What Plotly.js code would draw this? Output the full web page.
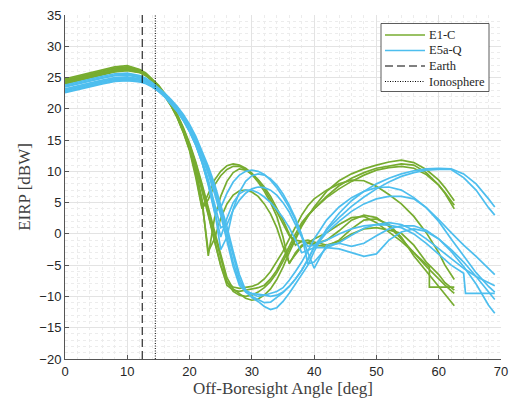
<!DOCTYPE html>
<html>
<head>
<meta charset="utf-8">
<script src="https://cdn.plot.ly/plotly-3.0.1.min.js"></script>
<style>html,body{margin:0;padding:0;background:#fff;}#chart{width:514px;height:401px;}</style>
</head>
<body>
<div id="chart"></div>
<script>
// ---- data ----
var gAng = [0,2,4,6,8,10,12,13,14,15,16,17,18,19,20,21,22,23,24,25,26,27,28,29,30,31,32,33,34,35,36,37,38,39,40,42,44,46,48,50,52,54,56,58,60,61,62.5];
var gA4Ang = [0,2,4,6,8,10,12,13,14,15,16,17,18,19,20,21,22,23,24,25,26,27,28,29,30,31,32,33,34,35,36,37,38,39,40,42,44,46,48,50,52,54,56,58,58.5,58.5,60,61,62.5];
var bAng = [0,2,4,6,8,10,12,13,14,15,16,17,18,19,20,21,22,23,24,25,26,27,28,29,30,31,32,33,34,35,36,37,38,39,40,42,44,46,48,50,52,54,56,58,60,62,64,66,68,69];
var bC3Ang = [0,2,4,6,8,10,12,13,14,15,16,17,18,19,20,21,22,23,24,25,26,27,28,29,30,31,32,33,34,35,36,37,38,39,40,42,44,46,48,50,52,54,56,58,60,62,64,64.3,66,68,69];

// E1-C patterns
var gA1 = [24.6,25.1,25.6,26.1,26.5,26.7,26.2,25.6,24.7,23.7,22.3,20.7,18.8,16.4,13.6,9.5,4.2,6.5,8.6,10.0,10.9,11.2,11.0,10.5,9.7,8.6,7.2,5.5,3.6,1.6,-0.3,-1.0,-1.2,-1.5,-1.6,-1.0,0.5,2.2,3.0,2.6,1.2,-0.8,-3.0,-5.2,-7.2,-8.2,-9.5];
var gA2 = [24.3,24.8,25.3,25.8,26.2,26.4,26.0,25.4,24.5,23.5,22.1,20.5,18.6,16.2,13.3,9.0,4.0,5.5,7.8,9.3,10.3,10.8,10.8,10.3,9.5,8.3,6.8,5.0,2.8,-0.5,-4.8,-3.0,-1.8,-1.5,-1.8,-2.0,-1.0,0.8,2.2,2.4,1.5,-0.5,-3.5,-6.0,-8.5,-9.8,-11.5];
var gA3 = [24.0,24.5,25.0,25.5,25.9,26.1,25.8,25.3,24.5,23.5,22.2,20.6,18.8,16.5,13.8,10.2,5.5,-3.5,2.5,6.0,8.4,9.8,10.4,10.2,9.6,8.7,7.5,6.0,4.2,2.2,0.0,-1.8,-1.2,-1.0,-1.3,-1.8,-1.2,0.0,0.8,1.0,0.6,0.1,-1.8,-4.5,-6.5,-7.8,-9.0];
var gA4 = [24.2,24.7,25.2,25.7,26.1,26.3,25.9,25.4,24.6,23.6,22.2,20.6,18.7,16.3,13.5,9.8,5.0,-2.8,-0.8,2.5,4.8,6.2,6.9,7.0,6.7,6.0,4.8,3.2,1.0,-2.0,-4.6,-3.2,-2.0,-1.4,-0.8,0.2,1.5,2.6,2.8,1.8,0.3,-1.2,-3.0,-4.8,-5.3,-8.5,-8.5,-8.5,-8.5];
var gB1 = [24.8,25.3,25.8,26.3,26.7,26.9,26.3,25.7,24.8,23.8,22.5,21.0,19.2,17.0,14.5,11.5,8.0,4.3,0.5,-3.5,-7.0,-8.8,-9.6,-10.3,-10.6,-10.4,-9.8,-8.8,-7.3,-5.3,-3.0,-0.8,1.2,2.8,4.3,6.8,8.5,9.6,10.4,11.0,11.5,11.8,11.4,10.3,8.6,7.4,5.3];
var gB2 = [24.5,25.0,25.5,26.0,26.4,26.6,26.1,25.5,24.6,23.6,22.3,20.8,19.0,16.8,14.3,11.2,7.6,3.8,-0.2,-4.2,-7.6,-9.2,-9.8,-10.0,-9.8,-9.3,-8.6,-7.6,-6.2,-4.4,-2.4,-0.4,1.4,2.9,4.0,6.0,7.7,8.9,9.8,10.5,10.9,11.2,11.0,9.8,7.8,6.5,4.0];
var gB3 = [24.3,24.8,25.3,25.8,26.2,26.4,25.9,25.4,24.5,23.5,22.2,20.7,18.9,16.6,14.0,10.8,7.2,3.2,-1.0,-5.0,-8.2,-9.0,-9.2,-9.0,-8.8,-8.6,-8.2,-7.2,-5.8,-4.0,-2.0,0.0,1.8,3.0,4.0,5.8,7.2,8.4,9.4,10.2,10.6,10.8,10.5,9.5,7.8,6.6,4.6];
var gB4 = [24.1,24.6,25.1,25.6,26.0,26.2,25.8,25.3,24.5,23.5,22.2,20.7,18.9,16.6,14.0,10.8,7.0,3.0,-1.2,-5.0,-7.8,-8.5,-8.7,-8.6,-8.4,-8.0,-7.2,-6.0,-4.5,-2.8,-0.8,1.2,3.0,4.5,5.6,7.0,8.0,8.6,8.5,7.6,6.3,4.8,2.8,0.2,-3.0,-5.0,-7.3];

// E5a-Q patterns
var bC1 = [23.5,24.0,24.5,24.9,25.3,25.4,25.0,24.6,23.9,23.1,22.1,21.0,19.8,18.3,16.5,14.3,11.5,7.8,3.5,4.2,6.5,8.3,9.4,10.0,10.2,10.0,9.5,8.6,7.4,5.9,4.2,2.2,-0.2,-3.0,-5.5,-1.8,-1.5,-2.0,-1.5,-0.3,0.8,1.3,1.3,0.6,-0.8,-2.8,-5.2,-8.0,-11.4,-12.7];
var bC2 = [23.2,23.7,24.2,24.6,25.0,25.1,24.8,24.4,23.7,22.9,22.0,20.9,19.7,18.2,16.4,14.2,11.5,8.2,4.0,-2.5,-0.5,4.0,6.7,8.4,9.3,9.6,9.4,8.8,7.8,6.4,4.6,2.5,-0.2,-4.8,-4.5,-2.2,-2.4,-3.0,-3.6,-3.2,-1.0,0.3,0.8,0.4,-0.8,-2.5,-4.5,-6.8,-9.2,-10.5];
var bC3 = [22.9,23.4,23.9,24.3,24.7,24.8,24.6,24.2,23.6,22.9,22.0,20.9,19.7,18.2,16.5,14.4,11.8,8.7,5.0,1.0,1.5,3.8,5.4,6.5,7.2,7.5,7.4,7.0,6.2,5.0,3.5,1.6,-0.5,-2.0,-1.8,-1.0,0.0,0.8,1.3,1.5,1.4,1.0,0.0,-1.5,-3.2,-5.0,-6.3,-9.5,-9.5,-9.5,-9.5];
var bC4 = [22.6,23.1,23.6,24.0,24.4,24.5,24.3,24.0,23.5,22.8,21.9,20.8,19.6,18.1,16.3,14.2,11.4,8.0,3.8,-0.5,2.5,5.0,6.4,7.0,7.0,6.6,5.9,5.0,3.9,2.6,1.0,-1.0,-3.0,-2.6,-2.2,-2.2,-1.4,-0.2,0.9,1.5,1.8,1.5,0.6,-0.8,-2.4,-4.0,-5.5,-6.8,-7.8,-8.3];
var bD1 = [23.8,24.3,24.8,25.2,25.6,25.7,25.3,24.9,24.2,23.4,22.5,21.5,20.4,19.1,17.5,15.6,13.3,10.8,8.0,4.8,1.2,-2.8,-6.5,-9.0,-10.2,-10.8,-11.6,-12.1,-11.8,-10.8,-9.5,-8.0,-6.6,-5.0,-2.8,0.8,3.3,5.3,6.8,8.0,8.9,9.6,10.1,10.4,10.5,10.4,9.6,8.0,5.6,4.3];
var bD2 = [23.6,24.1,24.6,25.0,25.4,25.5,25.1,24.7,24.0,23.2,22.3,21.3,20.2,18.9,17.3,15.3,13.0,10.4,7.5,4.2,0.4,-3.6,-7.2,-9.3,-10.0,-10.5,-11.0,-10.9,-10.2,-9.4,-8.4,-7.2,-5.8,-4.2,-2.0,0.6,2.6,4.4,5.9,7.2,8.3,9.2,9.8,10.2,10.3,10.3,9.0,7.0,4.2,3.0];
var bD3 = [23.0,23.5,24.0,24.4,24.8,24.9,24.7,24.3,23.7,23.0,22.1,21.1,20.0,18.6,17.0,15.0,12.7,10.0,7.0,3.6,-0.5,-4.5,-7.8,-9.0,-9.6,-10.0,-9.8,-9.5,-9.2,-8.6,-7.4,-6.0,-4.5,-2.7,-0.8,2.2,4.3,5.8,6.8,7.4,7.5,7.0,5.8,4.2,2.3,0.2,-1.8,-3.6,-5.5,-6.5];
var bD4 = [22.7,23.2,23.7,24.1,24.5,24.6,24.4,24.1,23.6,22.9,22.0,21.0,19.9,18.5,16.8,14.8,12.4,9.6,6.5,3.0,-1.2,-5.2,-8.2,-9.2,-9.5,-9.6,-9.8,-10.0,-9.8,-9.3,-8.4,-7.2,-5.8,-4.0,-2.2,0.2,2.0,3.6,4.8,5.6,6.0,6.0,5.6,4.2,2.0,-0.8,-3.6,-6.2,-8.4,-9.3];

var earthAngle = 12.4;
var ionoAngle = 14.5;
var yLimits = [-20, 35];
var xTicks = [0,10,20,30,40,50,60,70];
var yTicks = [-20,-15,-10,-5,0,5,10,15,20,25,30,35];
var legendNames = ['E1-C', 'E5a-Q', 'Earth', 'Ionosphere'];

// ---- traces ----
var GREEN = '#77AC30', BLUE = '#4DBEEE';
var DASH = '8px,4px', DOT = '1px,1.5px';
var traces = [];
var greens = [[gAng,gA1],[gAng,gA2],[gAng,gA3],[gA4Ang,gA4],[gAng,gB1],[gAng,gB2],[gAng,gB3],[gAng,gB4]];
var blues = [[bAng,bC1],[bAng,bC2],[bC3Ang,bC3],[bAng,bC4],[bAng,bD1],[bAng,bD2],[bAng,bD3],[bAng,bD4]];
greens.forEach(function(p){
  traces.push({x:p[0], y:p[1], type:'scatter', mode:'lines', name:legendNames[0],
    showlegend:false, line:{color:GREEN, width:1.7}});
});
blues.forEach(function(p){
  traces.push({x:p[0], y:p[1], type:'scatter', mode:'lines', name:legendNames[1],
    showlegend:false, line:{color:BLUE, width:1.7}});
});
traces.push({x:[earthAngle,earthAngle], y:yLimits, type:'scatter', mode:'lines', name:legendNames[2],
  showlegend:false, line:{color:'#000', width:1, dash:DASH}});
traces.push({x:[ionoAngle,ionoAngle], y:yLimits, type:'scatter', mode:'lines', name:legendNames[3],
  showlegend:false, line:{color:'#000', width:1, dash:DOT}});

// ---- custom legend box (paper coordinates) ----
var L = 65, T = 15, W = 436, H = 344;
function px(x){ return (x - L) / W; }
function py(y){ return 1 - (y - T) / H; }
var serif = 'Liberation Serif, Times New Roman, serif';
var legendStyles = [
  {color:GREEN, dash:'solid', width:1.7},
  {color:BLUE, dash:'solid', width:1.7},
  {color:'#000', dash:DASH, width:1},
  {color:'#000', dash:DOT, width:1}
];
var shapes = [{type:'rect', xref:'paper', yref:'paper', x0:px(381), x1:px(489), y0:py(23.5), y1:py(91.5),
  line:{color:'#333', width:0.8}, fillcolor:'#fff', layer:'above'}];
var annotations = [];
var rowY = [35, 50.5, 66, 81.5];
legendNames.forEach(function(n, i){
  shapes.push({type:'line', xref:'paper', yref:'paper', x0:px(385), x1:px(425), y0:py(rowY[i]), y1:py(rowY[i]),
    line:legendStyles[i], layer:'above'});
  annotations.push({xref:'paper', yref:'paper', x:px(427), y:py(rowY[i]), xanchor:'left', yanchor:'middle',
    text:n, showarrow:false, font:{family:serif, size:12.5, color:'#262626'}});
});

var tickFont = {family:'Liberation Sans, Arial, sans-serif', size:13, color:'#262626'};
var titleFont = {family:serif, size:17, color:'#404040'};

var layout = {
  width:514, height:401,
  margin:{l:65, r:13, t:15, b:42},
  paper_bgcolor:'#fff', plot_bgcolor:'#fff',
  showlegend:false,
  shapes:shapes, annotations:annotations,
  xaxis:{range:[0,70], tickvals:xTicks, ticks:'inside', ticklen:4, tickcolor:'#555',
    showline:true, linecolor:'#555', linewidth:1, zeroline:false,
    showgrid:true, gridcolor:'#e3e3e3', gridwidth:1,
    minor:{dtick:2, showgrid:true, gridcolor:'#ececec', griddash:'dot', ticks:''},
    tickfont:tickFont,
    title:{text:'Off-Boresight Angle [deg]', font:titleFont, standoff:2}},
  yaxis:{range:yLimits, tickvals:yTicks, ticks:'inside', ticklen:4, tickcolor:'#555',
    showline:true, linecolor:'#555', linewidth:1, zeroline:false,
    showgrid:true, gridcolor:'#e3e3e3', gridwidth:1,
    minor:{dtick:1, showgrid:true, gridcolor:'#ececec', griddash:'dot', ticks:''},
    tickfont:tickFont,
    title:{text:'EIRP [dBW]', font:titleFont, standoff:4}}
};

Plotly.newPlot('chart', traces, layout, {displayModeBar:false, staticPlot:true});
</script>
</body>
</html>
